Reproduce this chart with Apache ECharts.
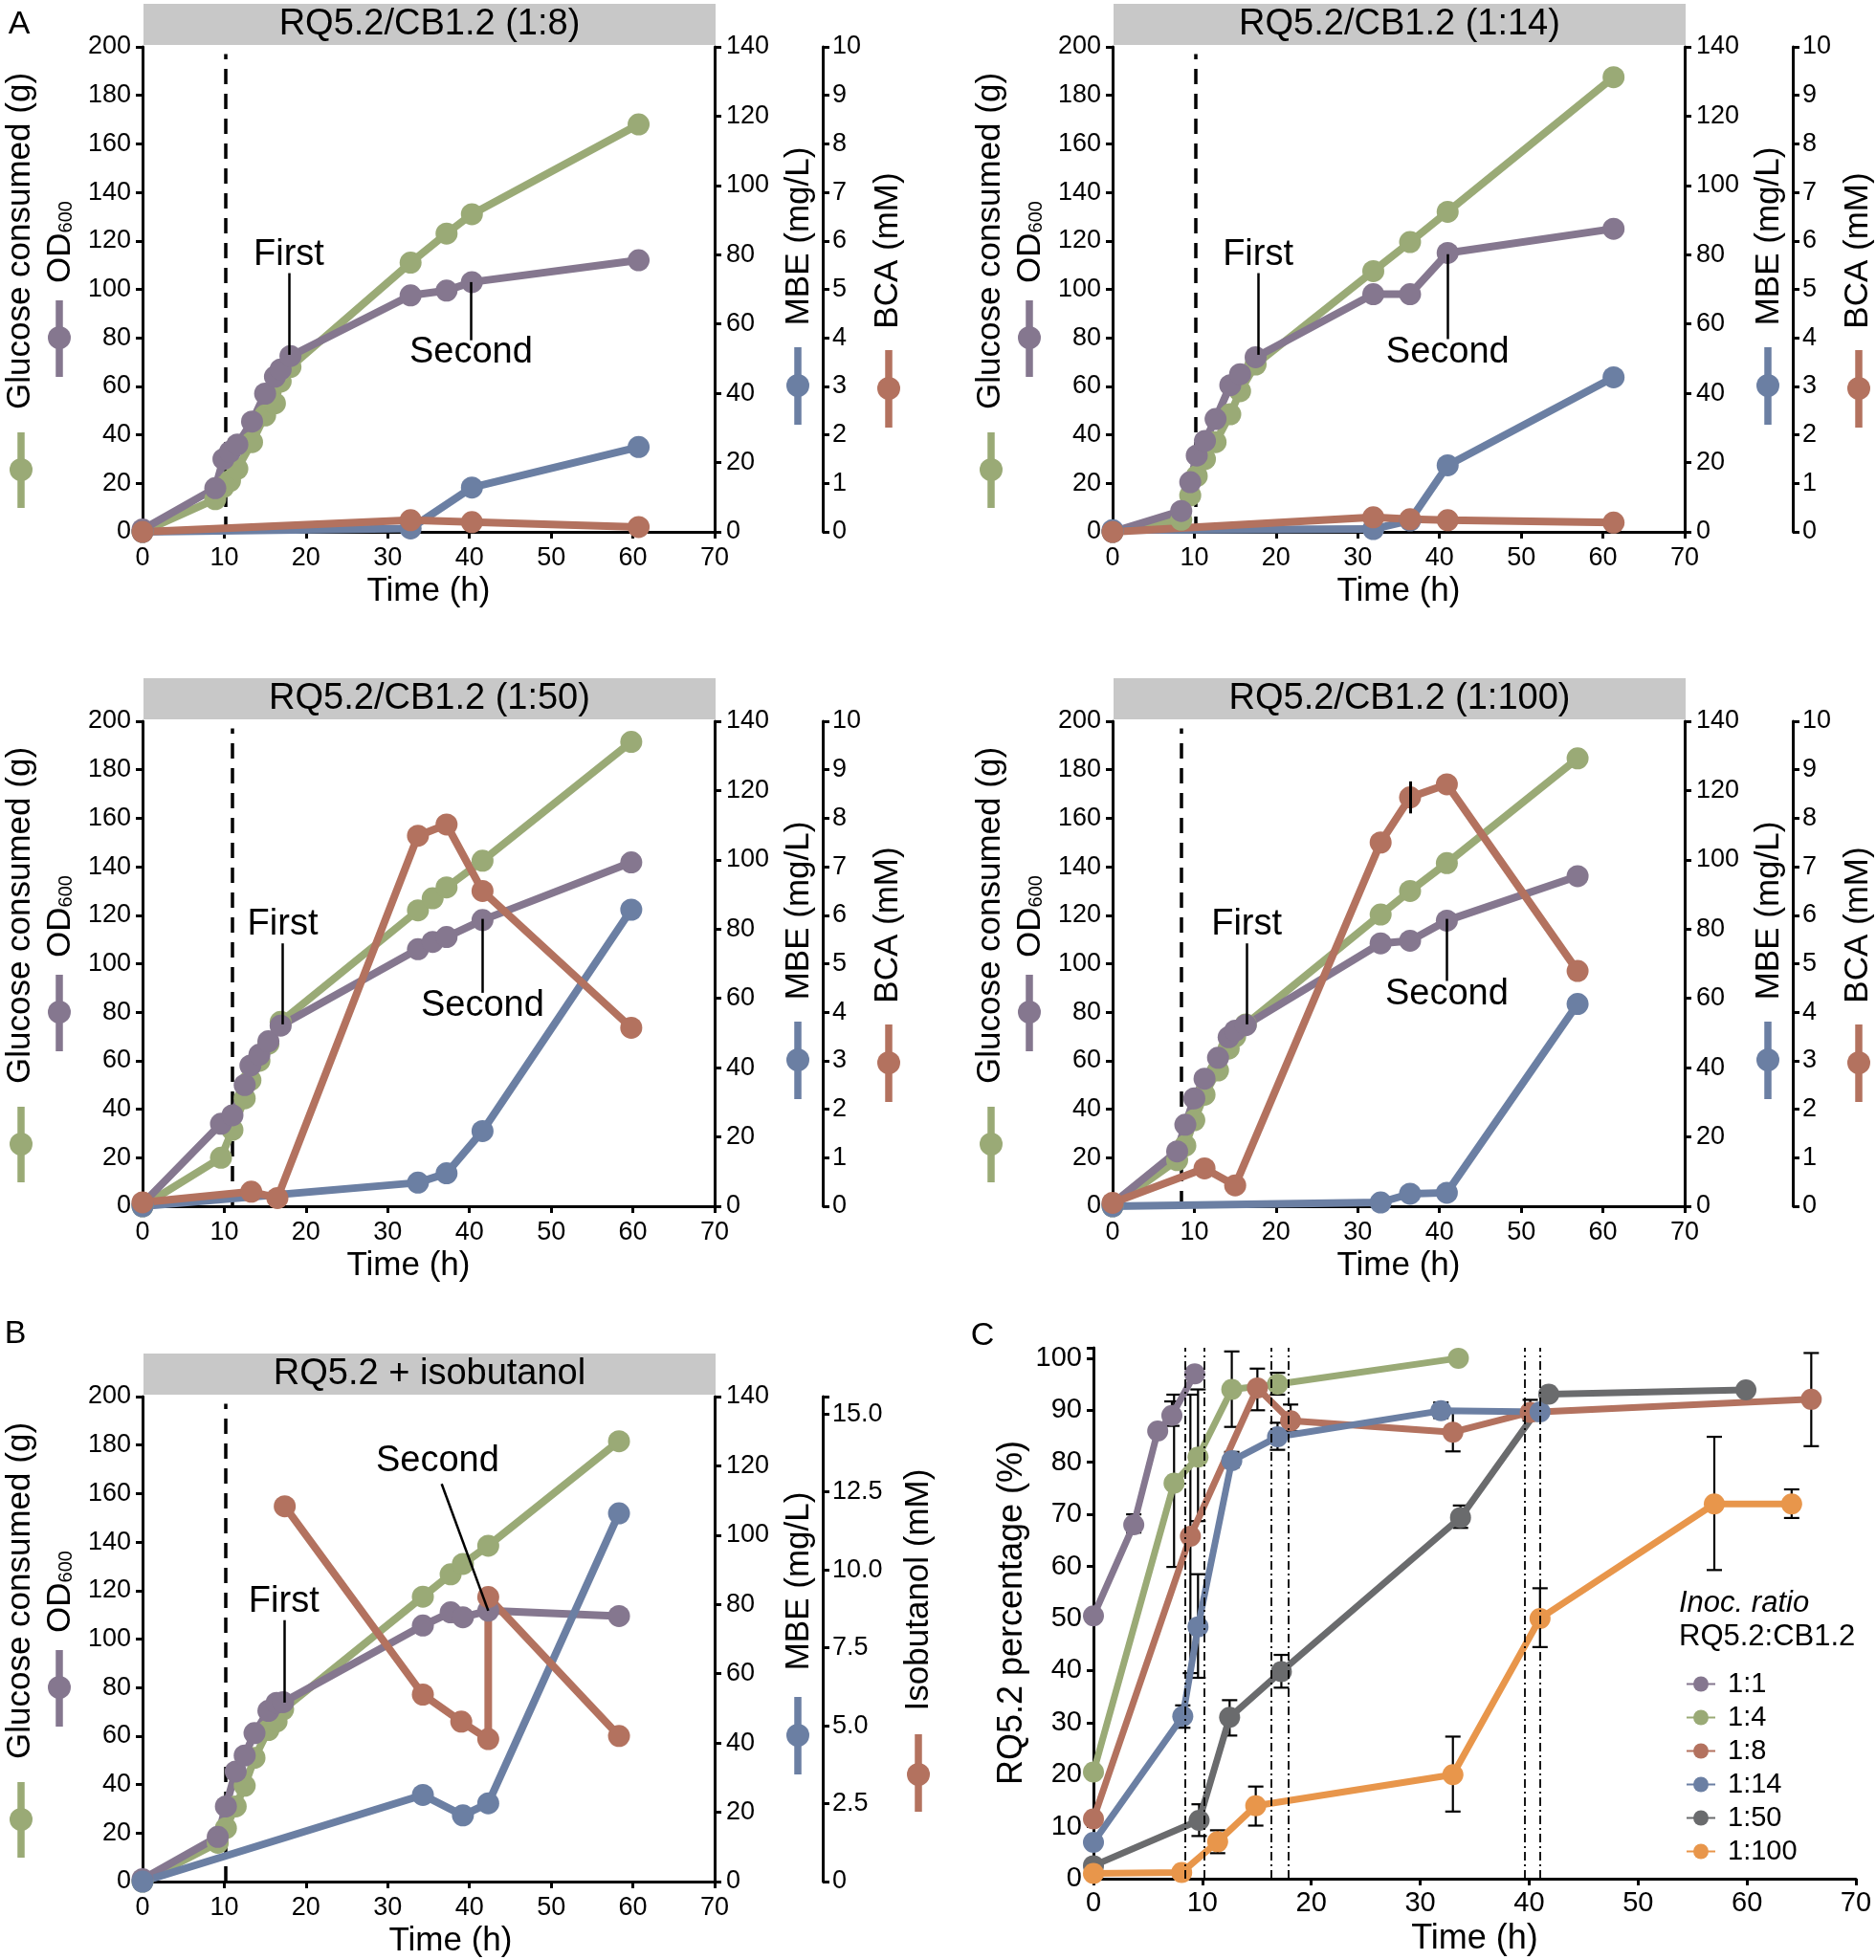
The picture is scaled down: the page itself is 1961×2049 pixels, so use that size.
<!DOCTYPE html>
<html><head><meta charset="utf-8">
<script src="https://cdn.jsdelivr.net/npm/echarts@6/dist/echarts.min.js"></script>
<style>html,body{margin:0;padding:0;background:#fff}#c{width:1961px;height:2049px}</style>
</head><body><div id="c"></div>
<script>
const FONT = "'Liberation Sans', Arial, Helvetica, sans-serif";
const GREEN='#9AAA76', PURPLE='#85778F', BLUE='#6B7FA3', RED='#B3725F', GRAY='#6A6B6D', ORANGE='#E8964B';

// ---------- Panel A : 1:8 ----------
const timeA8    = [0, 8.9, 9.9, 10.7, 11.6, 13.4, 15.0, 16.2, 16.9, 18.1, 32.8, 37.2, 40.3, 60.7];
const glucoseA8 = [0, 13.5, 18.5, 21, 26, 37, 48, 53, 62, 68, 111, 123, 131, 168];
const odA8      = [1, 18, 30, 33, 36, 45.5, 57, 64, 67, 72.5, 97.5, 99.5, 103, 112];
const mbeTimeA8 = [0, 32.8, 40.3, 60.7];
const mbeA8     = [0, 1, 12.8, 24.5];
const bcaTimeA8 = [0, 32.8, 40.3, 60.7];
const bcaA8     = [0, 0.24, 0.2, 0.1];

// ---------- Panel A : 1:14 ----------
const timeA14    = [0, 8.4, 9.5, 10.3, 11.3, 12.6, 14.4, 15.6, 17.5, 31.9, 36.4, 41.0, 61.3];
const glucoseA14 = [0, 5, 15, 23, 30, 37, 48.5, 58, 69, 107.5, 119.5, 132, 187.5];
const odA14      = [0, 8.6, 20.5, 31.5, 37.5, 46.5, 60.5, 65, 72, 98, 98, 115, 125];
const mbeTimeA14 = [0, 31.9, 36.4, 41.0, 61.3];
const mbeA14     = [0.5, 0.8, 3.3, 19.2, 44.6];
const bcaTimeA14 = [0, 31.9, 36.4, 41.0, 61.3];
const bcaA14     = [0, 0.3, 0.26, 0.24, 0.19];

// ---------- Panel A : 1:50 ----------
const timeA50    = [0, 9.6, 11.0, 12.5, 13.2, 14.3, 15.4, 16.9, 33.7, 35.5, 37.2, 41.6, 59.8];
const glucoseA50 = [0, 20, 31.5, 44.5, 52, 60, 67, 76, 122, 127, 131.5, 142.5, 191.5];
const odA50      = [1, 34, 37.5, 50, 58, 62.5, 68, 74.5, 106, 109, 111, 118, 141.8];
const mbeTimeA50 = [0, 33.7, 37.2, 41.6, 59.8];
const mbeA50     = [0, 6.8, 9.5, 21.7, 85.6];
const bcaTimeA50 = [0, 13.3, 16.5, 33.7, 37.2, 41.6, 59.8];
const bcaA50     = [0.08, 0.3, 0.17, 7.64, 7.87, 6.5, 3.68];

// ---------- Panel A : 1:100 ----------
const timeA100    = [0, 7.9, 8.9, 10.0, 11.25, 12.9, 14.2, 15.0, 16.3, 32.8, 36.4, 40.9, 56.9];
const glucoseA100 = [0, 19, 25, 35.5, 46, 56, 65, 70, 75, 120.3, 130, 141.5, 184.7];
const odA100      = [1, 22.6, 33.6, 44.5, 52.6, 61.2, 69.7, 72.4, 74.7, 108.4, 109.5, 117.8, 136.1];
const mbeTimeA100 = [0, 32.8, 36.4, 40.9, 56.9];
const mbeA100     = [0, 1.1, 3.6, 3.9, 58.4];
const bcaTimeA100 = [0, 11.25, 15.0, 32.8, 36.4, 40.9, 56.9];
const bcaA100     = [0.07, 0.78, 0.43, 7.5, 8.43, 8.7, 4.85];
const bcaErrA100  = [[36.4, 8.1, 8.76]];

// ---------- Panel B : RQ5.2 + isobutanol ----------
const timeB    = [0, 9.2, 10.2, 11.4, 12.5, 13.7, 15.4, 16.4, 17.2, 34.3, 37.7, 39.2, 42.3, 58.3];
const glucoseB = [0, 16, 22, 31, 39.5, 51, 62.5, 66, 71, 117.5, 126.7, 131, 138.5, 181.6];
const odB      = [1, 18.4, 31, 45.4, 52, 61.2, 70.4, 73.7, 74, 105.6, 111, 109, 111.7, 109.5];
const mbeTimeB = [0, 34.3, 39.2, 42.3, 58.3];
const mbeB     = [0, 25, 19.1, 22.6, 106.3];
const isoTimeB = [17.4, 34.3, 39.0, 42.3, 42.3, 58.3];
const isoB     = [12.04, 6.0, 5.13, 4.57, 9.13, 4.67];

// ---------- Panel C : RQ5.2 percentage ----------
const ratioNames = ['1:1', '1:4', '1:8', '1:14', '1:50', '1:100'];
const timeC1   = [0, 3.7, 5.9, 7.2, 9.3];
const pctC1    = [50.5, 68, 86, 89, 97];
const timeC4   = [0, 7.4, 9.6, 12.7, 16.9, 33.5];
const pctC4    = [20.5, 76, 81, 94, 95, 100];
const timeC8   = [0, 8.9, 15.05, 18.1, 33, 40.1, 65.9];
const pctC8    = [11.5, 65.8, 94.3, 88, 85.8, 89.6, 92.1];
const timeC14  = [0, 8.2, 9.6, 12.7, 16.9, 31.9, 41.0];
const pctC14   = [7, 31.2, 48.4, 80.3, 84.9, 89.9, 89.7];
const timeC50  = [0, 9.7, 12.5, 17.25, 33.7, 41.8, 59.9];
const pctC50   = [2.5, 11.2, 31, 39.8, 69.4, 93.1, 93.9];
const timeC100 = [0, 8.1, 11.4, 14.9, 33, 41, 57, 64.1];
const pctC100  = [1, 1.2, 7.1, 14, 20, 50, 72, 72];
// error bars [time, low, high]
const errC1   = [[3.7, 66.5, 70], [7.2, 87, 91.7]];
const errC4   = [[7.4, 59.9, 93], [9.6, 68.7, 94], [12.7, 86.8, 101.3], [16.9, 93, 97.2]];
const errC8   = [[8.9, 39.5, 93], [15.05, 90, 98], [18.1, 86, 91.1], [33, 82.1, 89.7], [40.1, 88, 92], [65.9, 83.1, 101]];
const errC14  = [[8.2, 29, 33.3], [9.6, 38.6, 58.5], [12.7, 79, 82], [16.9, 82.4, 87.6], [31.9, 88.5, 91.5]];
const errC50  = [[9.7, 8.2, 14.3], [12.5, 27.5, 34.3], [17.25, 36.7, 43], [33.7, 67.4, 71.7]];
const errC100 = [[11.4, 4.9, 9.3], [14.9, 10.2, 17.7], [33, 12.9, 27.3], [41, 44.5, 55.8], [57, 59.3, 84.9], [64.1, 69.3, 74.8]];
const samplingLinesC = [8.4, 10.2, 16.3, 17.9, 39.6, 41.0];

// ---------- helpers ----------
const zip = (xs, ys) => xs.map((x, i) => [x, ys[i]]);

const panels = [
  {title:'RQ5.2/CB1.2 (1:8)', left:149, top:49, dx:0, dy:0, t:timeA8, g:glucoseA8, od:odA8, mt:mbeTimeA8, m:mbeA8, bt:bcaTimeA8, b:bcaA8,
   dash:10.1, first:[17.9,73,106.7,114.2], second:[40.2,103,79,73.8], namePad:[0,0,0,0]},
  {title:'RQ5.2/CB1.2 (1:14)', left:1163, top:49, dx:1014, dy:0, t:timeA14, g:glucoseA14, od:odA14, mt:mbeTimeA14, m:mbeA14, bt:bcaTimeA14, b:bcaA14,
   dash:10.2, first:[17.8,73,106.7,114.2], second:[41.0,114.5,79.5,73.8], namePad:[0,0,0,0]},
  {title:'RQ5.2/CB1.2 (1:50)', left:149, top:754, dx:0, dy:705, t:timeA50, g:glucoseA50, od:odA50, mt:mbeTimeA50, m:mbeA50, bt:bcaTimeA50, b:bcaA50,
   dash:11.0, first:[17.15,75,108.4,116.2], second:[41.6,118.5,88,82.6], namePad:[0,42,0,0]},
  {title:'RQ5.2/CB1.2 (1:100)', left:1163, top:754, dx:1014, dy:705, t:timeA100, g:glucoseA100, od:odA100, mt:mbeTimeA100, m:mbeA100, bt:bcaTimeA100, b:bcaA100,
   dash:8.4, first:[16.4,75,108.4,116.2], second:[40.9,118.5,92.9,87.5], namePad:[0,0,0,0], err:bcaErrA100},
  {title:'RQ5.2 + isobutanol', left:149, top:1460, dx:0, dy:1411, t:timeB, g:glucoseB, od:odB, mt:mbeTimeB, m:mbeB, bt:isoTimeB, b:isoB,
   dash:10.2, first:[17.3,73.8,107.8,115.3], secondSlant:[36.6,164,42.3,111.7,36.1,173.2], namePad:[0,0,0,46], iso:true}
];

const axisLineStyle = {show:true, onZero:false, lineStyle:{color:'#000', width:3}};
const axisTickStyle = {show:true, length:7, lineStyle:{color:'#000', width:3}};
const labelStyle = (size, margin) => ({color:'#000', fontSize:size, fontFamily:FONT, margin});

const grids = [], xAxes = [], yAxes = [], series = [], graphics = [];

function lineSeries(name, xi, yi, data, color, size, width, extra) {
  return Object.assign({type:'line', name, xAxisIndex:xi, yAxisIndex:yi, data, symbol:'circle', symbolSize:size,
    showSymbol:true, lineStyle:{width, color}, itemStyle:{color}, emphasis:{disabled:true}, z:2}, extra || {});
}
function renderErr(params, api) {
  const x = api.value(0), lo = api.value(1), hi = api.value(2);
  const p1 = api.coord([x, lo]), p2 = api.coord([x, hi]);
  const w = 8, st = {stroke:'#000', lineWidth:2.2};
  return {type:'group', children:[
    {type:'line', shape:{x1:p1[0], y1:p1[1], x2:p2[0], y2:p2[1]}, style:st},
    {type:'line', shape:{x1:p1[0]-w, y1:p1[1], x2:p1[0]+w, y2:p1[1]}, style:st},
    {type:'line', shape:{x1:p2[0]-w, y1:p2[1], x2:p2[0]+w, y2:p2[1]}, style:st}
  ]};
}
function vText(x, y, text, size, extra) {
  return {type:'text', x, y, rotation:Math.PI/2, z:10,
    style:Object.assign({text, fontSize:size, fontFamily:FONT, fill:'#000', align:'center', verticalAlign:'middle'}, extra || {})};
}
function hText(x, y, text, size, align, extra) {
  return {type:'text', x, y, z:10,
    style:Object.assign({text, fontSize:size, fontFamily:FONT, fill:'#000', align:align || 'center', verticalAlign:'middle'}, extra || {})};
}
function icon(x, y1, y2, cy, color) {
  return {type:'group', z:10, children:[
    {type:'line', shape:{x1:x, y1, x2:x, y2}, style:{stroke:color, lineWidth:7.5}},
    {type:'circle', shape:{cx:x, cy, r:12}, style:{fill:color}}
  ]};
}

panels.forEach((p, g) => {
  grids.push({left:p.left, top:p.top, width:598, height:507, containLabel:false});
  xAxes.push({gridIndex:g, type:'value', min:0, max:70, interval:10,
    axisLine:axisLineStyle, axisTick:axisTickStyle, splitLine:{show:false}, axisLabel:labelStyle(27, 14),
    name:'Time (h)', nameLocation:'middle', nameGap:45,
    nameTextStyle:{fontSize:35, color:'#000', fontFamily:FONT, padding:p.namePad}});
  yAxes.push({gridIndex:g, type:'value', min:0, max:200, interval:20, position:'left',
    axisLine:axisLineStyle, axisTick:axisTickStyle, splitLine:{show:false}, axisLabel:labelStyle(27, 12)});
  yAxes.push({gridIndex:g, type:'value', min:0, max:140, interval:20, position:'right',
    axisLine:axisLineStyle, axisTick:axisTickStyle, splitLine:{show:false}, axisLabel:labelStyle(27, 12)});
  if (p.iso) {
    yAxes.push({gridIndex:g, type:'value', min:0, max:15.56, interval:2.5, position:'right', offset:113,
      axisLine:axisLineStyle, axisTick:axisTickStyle, splitLine:{show:false},
      axisLabel:Object.assign(labelStyle(27, 10), {formatter:v => (Math.abs(v/2.5 - Math.round(v/2.5)) > 1e-6) ? '' : (v === 0 ? '0' : v.toFixed(1))})});
  } else {
    yAxes.push({gridIndex:g, type:'value', min:0, max:10, interval:1, position:'right', offset:113,
      axisLine:axisLineStyle, axisTick:axisTickStyle, splitLine:{show:false}, axisLabel:labelStyle(27, 10)});
  }
  const yl = 3*g;
  const blackSolid = {type:'solid', width:2.5, color:'#000'};
  series.push(lineSeries('Glucose', g, yl, zip(p.t, p.g), GREEN, 23, 8, {
    markLine:{symbol:['none','none'], silent:true, z:1, label:{show:false},
      data:[[{coord:[p.dash, 0], lineStyle:{type:[16,10], width:3.5, color:'#000'}}, {coord:[p.dash, 197]}]]}
  }));
  const mlData = [[{coord:[p.first[0], p.first[1]], lineStyle:blackSolid}, {coord:[p.first[0], p.first[2]]}]];
  const mpData = [{name:'First', coord:[p.first[0], p.first[3]]}];
  if (p.second) {
    mlData.push([{coord:[p.second[0], p.second[1]], lineStyle:blackSolid}, {coord:[p.second[0], p.second[2]]}]);
    mpData.push({name:'Second', coord:[p.second[0], p.second[3]]});
  } else {
    const s = p.secondSlant;
    mlData.push([{coord:[s[0], s[1]], lineStyle:blackSolid}, {coord:[s[2], s[3]]}]);
    mpData.push({name:'Second', coord:[s[4], s[5]]});
  }
  series.push(lineSeries('OD600', g, yl, zip(p.t, p.od), PURPLE, 23, 8, {
    markLine:{symbol:['none','none'], silent:true, label:{show:false}, data:mlData},
    markPoint:{symbol:'circle', symbolSize:1, silent:true, itemStyle:{color:'rgba(0,0,0,0)'},
      label:{show:true, position:'inside', formatter:'{b}', color:'#000', fontSize:38, fontFamily:FONT}, data:mpData}
  }));
  series.push(lineSeries('MBE', g, yl+1, zip(p.mt, p.m), BLUE, 23, 8));
  const redExtra = {};
  if (p.err) {
    redExtra.markLine = {symbol:['none','none'], silent:true, label:{show:false},
      data:p.err.map(e => [{coord:[e[0], e[1]], lineStyle:{type:'solid', width:3, color:'#000'}}, {coord:[e[0], e[2]]}])};
  }
  series.push(lineSeries(p.iso ? 'Isobutanol' : 'BCA', g, yl+2, zip(p.bt, p.b), RED, 23, 8, redExtra));

  // decorations: title box, axis titles, legend icons
  const dx = p.dx, dy = p.dy;
  graphics.push({type:'rect', z:0, shape:{x:150+dx, y:4+dy, width:598, height:43}, style:{fill:'#C8C8C8'}});
  graphics.push(hText(449+dx, 26+dy, p.title, 38));
  graphics.push(vText(21+dx, 252+dy, 'Glucose consumed (g)', 35));
  graphics.push(icon(22+dx, 452+dy, 531+dy, 491+dy, GREEN));
  graphics.push(vText(63+dx, 253+dy, '{a|OD}{b|600}', 35, {rich:{a:{fontSize:35, fontFamily:FONT, lineHeight:40, verticalAlign:'middle'}, b:{fontSize:20, fontFamily:FONT, lineHeight:40, verticalAlign:'bottom', padding:[0,0,4,0]}}}));
  graphics.push(icon(62+dx, 314+dy, 394+dy, 353+dy, PURPLE));
  graphics.push(vText(835+dx, (p.iso ? 242 : 247)+dy, 'MBE (mg/L)', 35));
  graphics.push(icon(834+dx, 363+dy, 444+dy, 403+dy, BLUE));
  if (p.iso) {
    graphics.push(vText(960+dx, 251+dy, 'Isobutanol (mM)', 35));
    graphics.push(icon(960+dx, 402+dy, 483+dy, 444+dy, RED));
  } else {
    graphics.push(vText(928+dx, 262+dy, 'BCA (mM)', 35));
    graphics.push(icon(929+dx, 366+dy, 447+dy, 406+dy, RED));
  }
});

// ---------- Panel C ----------
grids.push({left:1143, top:1409, width:797, height:555, containLabel:false});
xAxes.push({gridIndex:5, type:'value', min:0, max:70, interval:10,
  axisLine:axisLineStyle, axisTick:axisTickStyle, splitLine:{show:false}, axisLabel:labelStyle(29, 11),
  name:'Time (h)', nameLocation:'middle', nameGap:45,
  nameTextStyle:{fontSize:36, color:'#000', fontFamily:FONT}});
yAxes.push({gridIndex:5, type:'value', min:0, max:102, interval:10, position:'left',
  axisLine:axisLineStyle, axisTick:axisTickStyle, splitLine:{show:false},
  axisLabel:Object.assign(labelStyle(29, 12), {formatter:v => (v % 10 === 0) ? String(v) : ''})});
const cSets = [
  [ratioNames[0], timeC1, pctC1, PURPLE],
  [ratioNames[1], timeC4, pctC4, GREEN],
  [ratioNames[2], timeC8, pctC8, RED],
  [ratioNames[3], timeC14, pctC14, BLUE],
  [ratioNames[4], timeC50, pctC50, GRAY],
  [ratioNames[5], timeC100, pctC100, ORANGE]
];
series.push({type:'custom', name:'err', xAxisIndex:5, yAxisIndex:15, z:1, silent:true,
  renderItem:renderErr, encode:{x:0, y:[1,2]},
  data:[].concat(errC1, errC4, errC8, errC14, errC50, errC100),
  markLine:{symbol:['none','none'], silent:true, label:{show:false},
    lineStyle:{type:[9,4,2,4], width:1.8, color:'#000'},
    data:samplingLinesC.map(t => [{coord:[t, 0]}, {coord:[t, 102]}])}
});
cSets.forEach(s => series.push(lineSeries(s[0], 5, 15, zip(s[1], s[2]), s[3], 22, 7)));

graphics.push(vText(1058, 1686, 'RQ5.2 percentage (%)', 36));
graphics.push(hText(1755, 1676, 'Inoc. ratio', 31, 'left', {fontStyle:'italic'}));
graphics.push(hText(1755, 1711, 'RQ5.2:CB1.2', 31, 'left'));
graphics.push(hText(20, 26, 'A', 34));
graphics.push(hText(16, 1395, 'B', 34));
graphics.push(hText(1027, 1397, 'C', 34));

const option = {
  animation:false,
  backgroundColor:'#fff',
  textStyle:{fontFamily:FONT},
  grid:grids, xAxis:xAxes, yAxis:yAxes, series,
  legend:{data:ratioNames, orient:'vertical', left:1757, top:1738, itemWidth:30, itemHeight:20, itemGap:0,
    textStyle:{fontSize:29, lineHeight:35, color:'#000', fontFamily:FONT, padding:[0,0,0,8]}},
  graphic:graphics
};
const chart = echarts.init(document.getElementById('c'), null, {renderer:'canvas'});
chart.setOption(option);
</script></body></html>
